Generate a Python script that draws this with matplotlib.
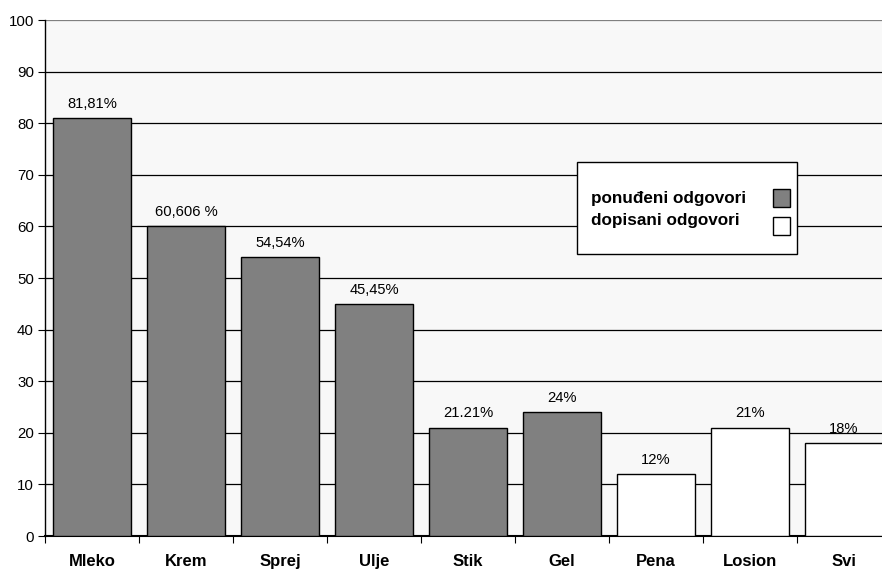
import numpy as np
import matplotlib.pyplot as plt
from matplotlib.patches import Rectangle

plt.rcParams['font.family'] = ['Liberation Sans', 'DejaVu Sans']

categories = ['Mleko', 'Krem', 'Sprej', 'Ulje', 'Stik', 'Gel', 'Pena', 'Losion', 'Svi']
values = [81, 60, 54, 45, 21, 24, 12, 21, 18]
labels = ['81,81%', '60,606 %', '54,54%', '45,45%', '21.21%', '24%', '12%', '21%', '18%']
offered = [True, True, True, True, True, True, False, False, False]
legend_names = ['ponuđeni odgovori', 'dopisani odgovori']
legend_colors = ['#808080', 'white']

W, H = 882, 571
fig = plt.figure(figsize=(W / 100, H / 100), dpi=100)
# axis runs a bit past the right edge of the picture, like the original
ax = fig.add_axes([45 / W, 35 / H, 846 / W, 516 / H])
ax.set_facecolor('#f8f8f8')

x = np.arange(len(categories))
colors = [legend_colors[0] if o else legend_colors[1] for o in offered]
ax.bar(x, values, width=0.84, color=colors, edgecolor='black', linewidth=1.0, zorder=3)

for xi, v, lab in zip(x, values, labels):
    ax.text(xi, v + 1.4, lab, ha='center', va='bottom', fontsize=10.6, zorder=4)

ax.set_xlim(-0.5, len(categories) - 0.5)
ax.set_ylim(0, 100)
ax.set_yticks(np.arange(0, 101, 10))
ax.tick_params(axis='y', labelsize=10.8, length=5, direction='out', pad=3)
ax.yaxis.grid(True, color='black', linewidth=0.9, zorder=0)
ax.get_ygridlines()[-1].set_color('#808080')

ax.set_xticks(np.arange(-0.5, len(categories), 1))
ax.set_xticklabels([])
ax.set_xticks(x, minor=True)
ax.set_xticklabels(categories, minor=True, fontsize=12, fontweight='bold')
ax.tick_params(axis='x', which='major', length=5, direction='out')
ax.tick_params(axis='x', which='minor', length=0, pad=13)

for s in ['top', 'right']:
    ax.spines[s].set_visible(False)
ax.spines['left'].set_linewidth(1.0)
ax.spines['bottom'].set_linewidth(1.5)

# legend drawn by hand: text on the left, swatches on the right
def fx(px):
    return px / W

def fy(py):
    return 1 - py / H

fig.patches.append(Rectangle((fx(577), fy(254)), fx(797) - fx(577), fy(162) - fy(254),
                             transform=fig.transFigure, facecolor='white',
                             edgecolor='black', linewidth=1.0, zorder=5))
for i, (name, col) in enumerate(zip(legend_names, legend_colors)):
    fig.text(fx(591), fy(198 + 23 * i), name, ha='left', va='center',
             fontsize=12.3, fontweight='bold', zorder=6)
    top = 189 + 28 * i
    fig.patches.append(Rectangle((fx(773), fy(top + 18)), fx(790) - fx(773), fy(top) - fy(top + 18),
                                 transform=fig.transFigure, facecolor=col,
                                 edgecolor='black', linewidth=1.0, zorder=6))

fig.savefig('out.png', dpi=100)
